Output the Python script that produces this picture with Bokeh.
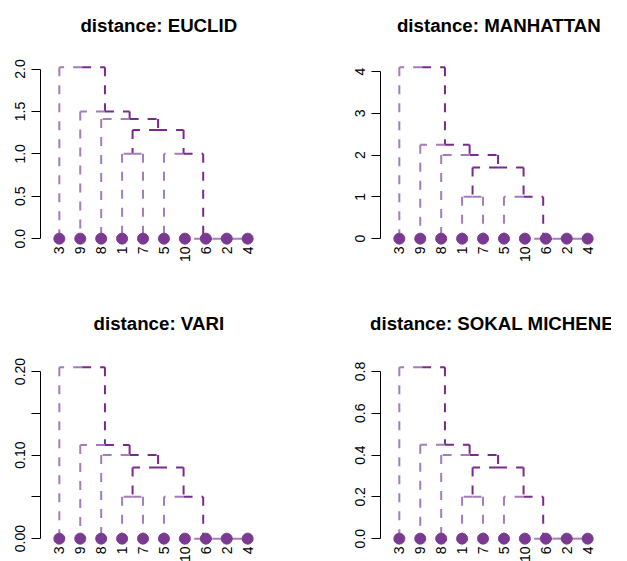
import math
from bokeh.plotting import figure
from bokeh.layouts import column, row
from bokeh.models import Range1d, FixedTicker
from bokeh.embed import file_html
from bokeh.resources import INLINE
from bokeh.core.properties import value

# ---------------- data ----------------
leaf_order = ["3", "9", "8", "1", "7", "5", "10", "6", "2", "4"]
# hclust-style merge matrix: negative = leaf label, positive = earlier merge (1-based)
merge_left = [-2, -6, -10, -1, -5, 4, -8, -9, -3]
merge_right = [-4, 1, 2, -7, 3, 5, 6, 7, 8]

titles = ["distance: EUCLID", "distance: MANHATTAN", "distance: VARI", "distance: SOKAL MICHENER"]

euclid_heights = [0, 0, 0, 1.00, 1.00, 1.28, 1.41, 1.50, 2.02]
manhattan_heights = [0, 0, 0, 1.0, 1.0, 1.70, 2.00, 2.25, 4.10]
vari_heights = [0, 0, 0, 0.050, 0.050, 0.085, 0.100, 0.112, 0.205]
sokal_heights = [0, 0, 0, 0.20, 0.20, 0.34, 0.40, 0.45, 0.82]

euclid_ticks = [0.0, 0.5, 1.0, 1.5, 2.0]
euclid_tick_labels = ["0.0", "0.5", "1.0", "1.5", "2.0"]
manhattan_ticks = [0, 1, 2, 3, 4]
manhattan_tick_labels = ["0", "1", "2", "3", "4"]
vari_ticks = [0.0, 0.05, 0.10, 0.15, 0.20]
vari_tick_labels = ["0.00", "", "0.10", "", "0.20"]
sokal_ticks = [0.0, 0.2, 0.4, 0.6, 0.8]
sokal_tick_labels = ["0.0", "0.2", "0.4", "0.6", "0.8"]

# ---------------- style ----------------
LIGHT = "#A27DBA"
DARK = "#7A2A8C"
DOT = "#7B3A91"
FONT = "Liberation Sans"
DASH = "9 9"

X_LO, X_HI = 0.1, 10.9      # R-style extended x limits of the plot region
REGION_W = 226.0             # plot-region width (px)
REGION_H = 185.0             # plot-region height (px)


def leaf_x(lbl):
    return leaf_order.index(str(lbl)) + 1


def build_edges(heights):
    mx = []
    for a, b in zip(merge_left, merge_right):
        xa = leaf_x(-a) if a < 0 else mx[a - 1]
        xb = leaf_x(-b) if b < 0 else mx[b - 1]
        mx.append((xa + xb) / 2.0)
    segs = {"x0": [], "y0": [], "x1": [], "y1": [], "color": []}

    def add(x0, y0, x1, y1, c):
        segs["x0"].append(x0); segs["y0"].append(y0)
        segs["x1"].append(x1); segs["y1"].append(y1)
        segs["color"].append(c)

    def walk(m):
        h = heights[m - 1]
        px = mx[m - 1]
        for child in (merge_left[m - 1], merge_right[m - 1]):
            if child < 0:
                cx, ch, col = leaf_x(-child), 0.0, LIGHT
            else:
                cx, ch, col = mx[child - 1], heights[child - 1], DARK
            add(px, h, cx, h, col)
            add(cx, h, cx, ch, col)
            if child > 0:
                walk(child)

    walk(len(merge_left))
    return segs


def make_panel(title, heights, ticks, tick_labels, fig_w, fig_h,
               axis_px, region_top_px, title_base_px):
    H = max(heights)
    ppu_x = REGION_W / (X_HI - X_LO)
    ppu_y = REGION_H / (1.08 * H)
    zero_px = region_top_px + 1.04 * H * ppu_y
    x_start = X_LO - axis_px / ppu_x
    x_end = x_start + fig_w / ppu_x
    y_end = zero_px / ppu_y
    y_start = y_end - fig_h / ppu_y

    p = figure(width=fig_w, height=fig_h, output_backend="svg",
               toolbar_location=None, tools="",
               x_range=Range1d(x_start, x_end), y_range=Range1d(y_start, y_end),
               x_axis_location=None, min_border=0)
    p.title_location = None
    p.outline_line_color = None
    p.grid.grid_line_color = None
    p.background_fill_color = "white"

    segs = build_edges(heights)
    p.segment(x0=segs["x0"], y0=segs["y0"], x1=segs["x1"], y1=segs["y1"],
              line_color=segs["color"], line_width=2, line_dash=DASH)

    xs = [i + 1 for i in range(len(leaf_order))]
    p.scatter(x=xs, y=[0] * len(xs), size=11, fill_color=DOT, line_color=DOT)

    p.text(x=xs, y=[-7.8 / ppu_y] * len(xs), text=leaf_order,
           angle=math.pi / 2, text_align="right", text_baseline="middle",
           text_font=value(FONT), text_font_size="14px", text_color="black")

    # title, centred over the plot region
    p.text(x=[5.42 + 7.0 / ppu_x], y=[(zero_px - title_base_px) / ppu_y], text=[title],
           text_align="center", text_baseline="alphabetic",
           text_font=value(FONT), text_font_style="bold",
           text_font_size="18.7px", text_color="black")

    ax = p.yaxis[0]
    ax.fixed_location = X_LO
    ax.ticker = FixedTicker(ticks=ticks, minor_ticks=[])
    ax.major_label_overrides = {t: l for t, l in zip(ticks, tick_labels)}
    ax.bounds = (ticks[0], ticks[-1])
    ax.axis_line_color = "black"
    ax.major_tick_line_color = "black"
    ax.major_tick_out = 9
    ax.major_tick_in = 0
    ax.minor_tick_line_color = None
    ax.major_label_orientation = "vertical"
    ax.major_label_standoff = 6
    ax.major_label_text_font = FONT
    ax.major_label_text_font_size = "14px"
    ax.major_label_text_color = "black"
    return p


p1 = make_panel(titles[0], euclid_heights, euclid_ticks, euclid_tick_labels,
                310, 290, 40, 60, 25.2)
p2 = make_panel(titles[1], manhattan_heights, manhattan_ticks, manhattan_tick_labels,
                301, 290, 70, 60, 25.2)
p3 = make_panel(titles[2], vari_heights, vari_ticks, vari_tick_labels,
                310, 271, 40, 70, 32.8)
p4 = make_panel(titles[3], sokal_heights, sokal_ticks, sokal_tick_labels,
                301, 271, 70, 70, 32.8)

layout = column(row(p1, p2), row(p3, p4))
open("out.html", "w").write(file_html(layout, INLINE))
